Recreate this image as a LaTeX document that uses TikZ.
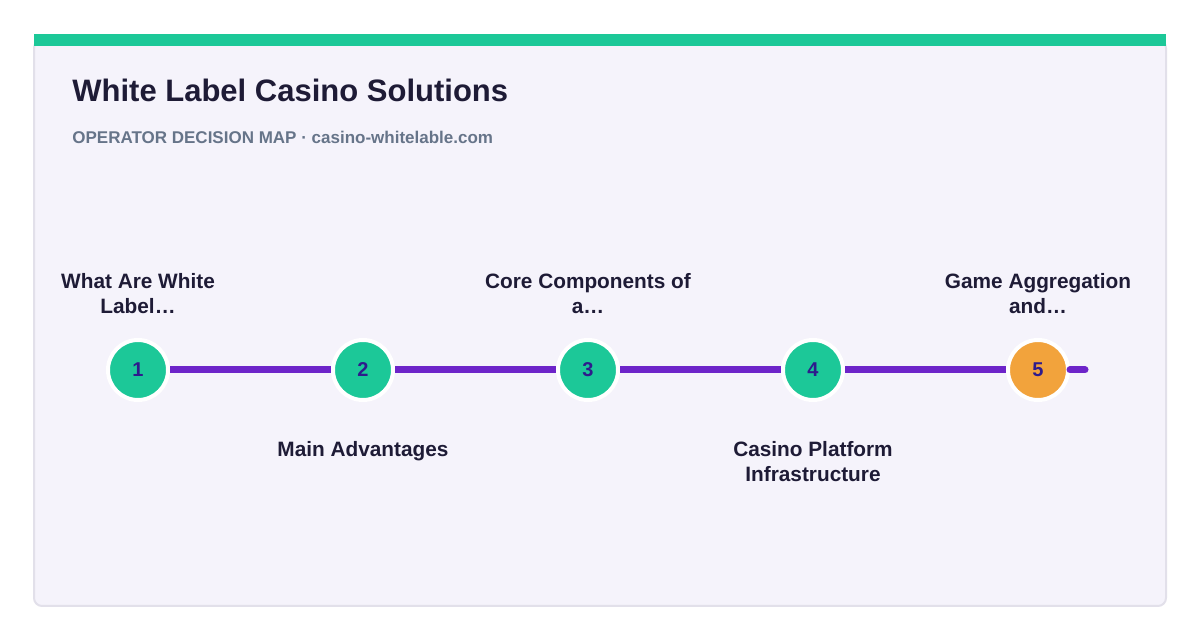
\documentclass[tikz,border=0pt]{standalone}
\usepackage{fontspec}
\setmainfont{Liberation Sans}
\usetikzlibrary{positioning}

\definecolor{cardfill}{HTML}{F5F3FB}
\definecolor{cardline}{HTML}{E2E0EA}
\definecolor{mint}{HTML}{1CC898}
\definecolor{amber}{HTML}{F2A33C}
\definecolor{violet}{HTML}{6D24C9}
\definecolor{ink}{HTML}{1E1B36}
\definecolor{numink}{HTML}{2E1B8C}
\definecolor{slate}{HTML}{667489}

\tikzset{
	stop/.style={circle, fill=mint, draw=white, line width=2pt, minimum size=30pt, inner sep=0pt,
		font=\fontsize{10}{11}\selectfont\bfseries, text=numink},
	steptext/.style={align=center, inner sep=0pt, text=ink, font=\fontsize{10.4}{12.5}\selectfont\bfseries},
	track/.style={violet, line width=3.5pt},
}

\begin{document}
\begin{tikzpicture}[x=0.5pt, y=-0.5pt]
			\useasboundingbox (0,0) rectangle (1200,640);
			
			% card
			\draw[cardline, fill=cardfill, line width=1pt, rounded corners=4pt] (34,40) rectangle (1166,606);
			\fill[mint] (34,34) rectangle (1166,46);
			
			\node[anchor=base west, inner sep=0pt, text=ink, font=\fontsize{15.5}{18}\selectfont\bfseries] (title) at (72,102) {White Label Casino Solutions};
			\node[anchor=base west, inner sep=0pt, text=slate, font=\fontsize{8.5}{10}\selectfont\bfseries] (subtitle) at (72,144) {OPERATOR DECISION MAP · casino-whitelable.com};
			
			% milestones
			\node[stop] (c1) at (138,370) {1};
			\node[stop] (c2) at (363,370) {2};
			\node[stop] (c3) at (588,370) {3};
			\node[stop] (c4) at (813,370) {4};
			\node[stop, fill=amber] (c5) at (1038,370) {5};
			\coordinate (tail) at (1085,370);
			
			\draw[track] (c1) -- (c2);
			\draw[track] (c2) -- (c3);
			\draw[track] (c3) -- (c4);
			\draw[track] (c4) -- (c5);
			\draw[track, line cap=round] (c5) -- (tail);
			
			% labels
			\node[steptext, above=12pt of c1] (l1) {What Are White\\Label…};
			\node[steptext, below=19.5pt of c2] (l2) {Main Advantages};
			\node[steptext, above=12pt of c3] (l3) {Core Components of\\a…};
			\node[steptext, below=19.5pt of c4] (l4) {Casino Platform\\Infrastructure};
			\node[steptext, above=12pt of c5] (l5) {Game Aggregation\\and…};
		\end{tikzpicture}
\end{document}
